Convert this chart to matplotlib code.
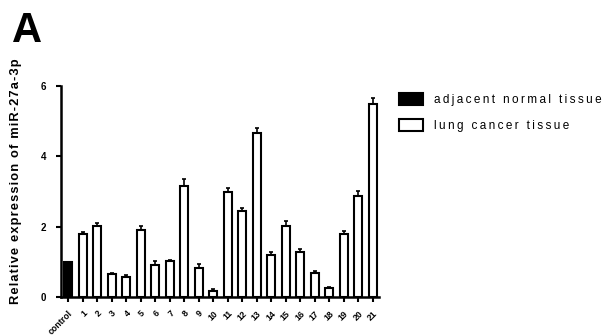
import matplotlib
matplotlib.use('Agg')
import matplotlib.pyplot as plt
from matplotlib.patches import Patch
import numpy as np

plt.rcParams['font.family'] = ['Liberation Sans', 'DejaVu Sans']

labels = ['control'] + [str(i) for i in range(1, 22)]
means = [1.0, 1.79, 2.01, 0.64, 0.58, 1.91, 0.92, 1.01, 3.14, 0.83, 0.17,
         2.97, 2.45, 4.65, 1.18, 2.01, 1.29, 0.69, 0.25, 1.78, 2.86, 5.47]
errs = [0.0, 0.06, 0.09, 0.05, 0.04, 0.10, 0.09, 0.05, 0.22, 0.10, 0.05,
        0.13, 0.08, 0.16, 0.09, 0.14, 0.07, 0.06, 0.03, 0.09, 0.16, 0.17]


def spaced(s, sep='\u2009'):
    """ Widen letter spacing a little, like the GraphPad export """
    return sep.join(s)


fig = plt.figure(figsize=(6.06, 3.35), dpi=100)
ax = fig.add_axes([0.1007, 0.1134, 0.5243, 0.6306])

x = np.arange(len(means))
colors = ['black'] + ['white'] * (len(means) - 1)
ax.bar(x, means, width=0.55, color=colors, edgecolor='black', linewidth=1.5,
       zorder=2)
ax.errorbar(x[1:], means[1:], yerr=[np.zeros(len(errs) - 1), errs[1:]],
            fmt='none', ecolor='black', elinewidth=1.2, capsize=1.5,
            capthick=1.2, zorder=1)

ax.set_xlim(-0.48, 21.4)
ax.set_ylim(0, 6)
ax.set_yticks([0, 2, 4, 6])
ax.set_yticklabels(['0', '2', '4', '6'], fontsize=7, fontweight='bold')
ax.set_xticks(x)
ax.set_xticklabels(labels, rotation=45, ha='right', rotation_mode='anchor',
                   fontsize=6.3, fontweight='bold')
ax.tick_params(axis='both', width=1.5, length=3.5)
ax.tick_params(axis='x', pad=5)
ax.tick_params(axis='y', pad=7)

for side in ['top', 'right']:
    ax.spines[side].set_visible(False)
for side in ['left', 'bottom']:
    ax.spines[side].set_linewidth(1.8)

fig.text(0.026, 0.46, spaced('Relative expression of miR-27a-3p', '\u200a'),
         rotation=90, ha='center', va='center', fontsize=9.3,
         fontweight='bold')
fig.text(0.02, 0.968, 'A', fontsize=30, fontweight='bold', va='top')

handles = [Patch(facecolor='black', edgecolor='black', linewidth=1.5),
           Patch(facecolor='white', edgecolor='black', linewidth=1.5)]
fig.legend(handles, [spaced('adjacent normal tissue'),
                     spaced('lung cancer tissue')],
           loc='upper left', bbox_to_anchor=(399 / 606, 1 - 93 / 335),
           frameon=False, borderpad=0, borderaxespad=0, fontsize=8.5,
           handlelength=2.0, handleheight=1.15, handletextpad=1.0,
           labelspacing=1.1)

fig.savefig('out.png', dpi=100)
